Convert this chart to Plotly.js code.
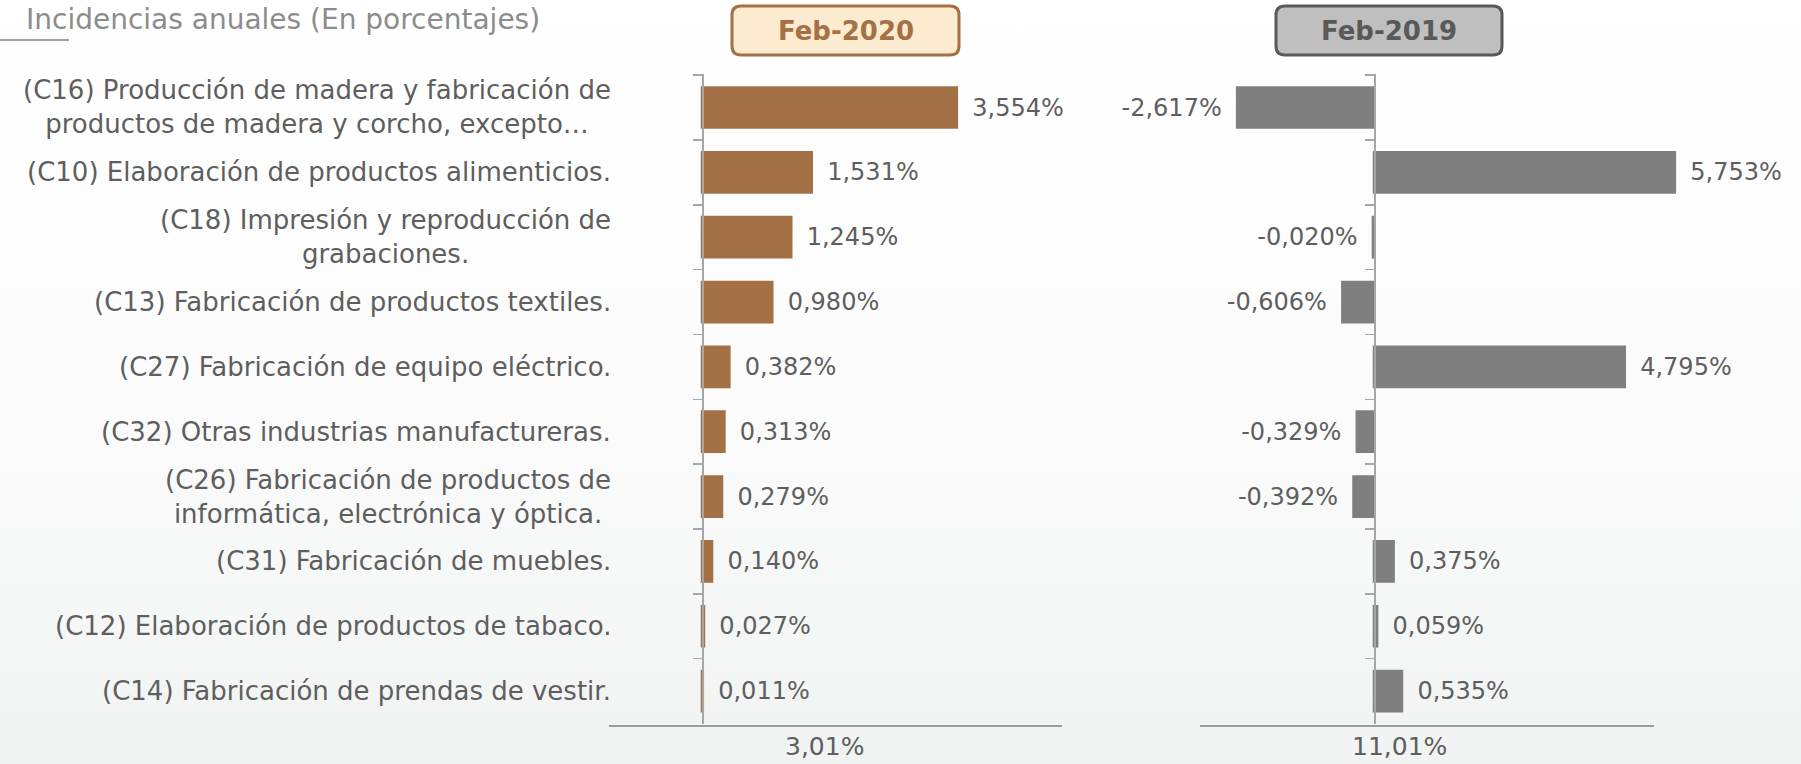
<!DOCTYPE html>
<html>
<head>
<meta charset="utf-8">
<script src="https://cdn.plot.ly/plotly-3.0.1.min.js"></script>
<style>
html,body{margin:0;padding:0;}
body{background:linear-gradient(180deg,#ffffff 0%,#fbfbfb 55%,#f1f3f3 100%);}
#chart{width:1801px;height:764px;}
</style>
</head>
<body>
<div id="chart"></div>
<script>
const categories = ['C16','C10','C18','C13','C27','C32','C26','C31','C12','C14'];
const categoryLabels = [
  '(C16) Producción de madera y fabricación de<br>productos de madera y corcho, excepto…',
  '(C10) Elaboración de productos alimenticios.',
  '(C18) Impresión y reproducción de<br>grabaciones.',
  '(C13) Fabricación de productos textiles.',
  '(C27) Fabricación de equipo eléctrico.',
  '(C32) Otras industrias manufactureras.',
  '(C26) Fabricación de productos de<br>informática, electrónica y óptica.',
  '(C31) Fabricación de muebles.',
  '(C12) Elaboración de productos de tabaco.',
  '(C14) Fabricación de prendas de vestir.'
];
const feb2020 = [3.554, 1.531, 1.245, 0.980, 0.382, 0.313, 0.279, 0.140, 0.027, 0.011];
const feb2019 = [-2.617, 5.753, -0.020, -0.606, 4.795, -0.329, -0.392, 0.375, 0.059, 0.535];
const panelTitles = ['Feb-2020', 'Feb-2019'];
const totals = ['3,01%', '11,01%'];
const chartTitle = 'Incidencias anuales (En porcentajes)';

const W = 1801, H = 764;
const FONT = '"DejaVu Sans", Lato, sans-serif';
const TXT = '#5E5E5E';
const BROWN = '#A47146';
const GRAY = '#7F7F7F';
const GAP = '\u00A0\u2009';

function fmt(v){ return v.toFixed(3).replace('.', ',') + '%'; }
function labelText(v){ return v < 0 ? fmt(v) + GAP : GAP + fmt(v); }
const px = x => x / W;
const py = y => 1 - y / H;

// panel geometry (pixels)
const left = {d0: 609, d1: 1062, zero: 702, ppu: 71.7};
const right = {d0: 1200, d1: 1795, zero: 1374, ppu: 52.3};
function rng(p){ return [(p.d0 - p.zero) / p.ppu, (p.d1 - p.zero) / p.ppu]; }

const yTop = 73.5, yBot = 723.5;

const traces = [
  {type:'bar', orientation:'h', y:categories, x:feb2020, xaxis:'x', yaxis:'y',
   marker:{color:BROWN, line:{color:BROWN, width:2.5}}, text:feb2020.map(labelText), textposition:'outside',
   textfont:{family:FONT, size:24, color:TXT}, constraintext:'none', cliponaxis:false,
   hoverinfo:'skip'},
  {type:'bar', orientation:'h', y:categories, x:feb2019, xaxis:'x2', yaxis:'y2',
   marker:{color:GRAY, line:{color:GRAY, width:2.5}}, text:feb2019.map(labelText), textposition:'outside',
   textfont:{family:FONT, size:24, color:TXT}, constraintext:'none', cliponaxis:false,
   hoverinfo:'skip'}
];

const yCommon = {
  type:'category', autorange:'reversed', domain:[py(yBot), py(yTop)],
  showgrid:false, zeroline:false, showticklabels:false,
  showline:true, linecolor:'#A6A6A6', linewidth:1.5,
  ticks:'outside', tickson:'boundaries', ticklen:9, tickcolor:'#A6A6A6', tickwidth:1.5,
  anchor:'free', fixedrange:true
};
const xCommon = {showgrid:false, zeroline:false, showline:false, showticklabels:false, ticks:'', fixedrange:true};

const annotations = [];
categories.forEach((c, i) => {
  annotations.push({xref:'paper', yref:'y', x:px(613), y:c, text:categoryLabels[i],
    xanchor:'right', yanchor:'middle', align:'center', showarrow:false,
    font:{family:FONT, size:26, color:TXT}});
});
annotations.push({xref:'paper', yref:'paper', x:px(24), y:py(19), text:chartTitle, xanchor:'left', yanchor:'middle',
  showarrow:false, font:{family:FONT, size:28, color:'#8C8C8C'}});
annotations.push({xref:'paper', yref:'paper', x:px(824), y:py(746), text:totals[0], xanchor:'center', yanchor:'middle',
  showarrow:false, font:{family:FONT, size:25, color:TXT}});
annotations.push({xref:'paper', yref:'paper', x:px(1399), y:py(746), text:totals[1], xanchor:'center', yanchor:'middle',
  showarrow:false, font:{family:FONT, size:25, color:TXT}});

function roundRect(x0, y0, x1, y1, r){
  const rx = r / W, ry = r / H;
  const X0 = px(x0), X1 = px(x1), Y0 = py(y0), Y1 = py(y1);
  return `M ${X0+rx},${Y0} L ${X1-rx},${Y0} Q ${X1},${Y0} ${X1},${Y0-ry} L ${X1},${Y1+ry} Q ${X1},${Y1} ${X1-rx},${Y1} ` +
         `L ${X0+rx},${Y1} Q ${X0},${Y1} ${X0},${Y1+ry} L ${X0},${Y0-ry} Q ${X0},${Y0} ${X0+rx},${Y0} Z`;
}
const boxes = [
  {x0:732, x1:959, fill:'#FDEBD0', line:BROWN, text:BROWN},
  {x0:1276, x1:1502, fill:'#BFBFBF', line:'#595959', text:'#595959'}
];
const shapes = [
  {type:'line', xref:'paper', yref:'paper', x0:0, x1:px(69), y0:py(40), y1:py(40), line:{color:'#7F7F7F', width:1.5}},
  {type:'line', xref:'paper', yref:'paper', x0:px(609), x1:px(1062), y0:py(726), y1:py(726), line:{color:'#7F7F7F', width:1.5}},
  {type:'line', xref:'paper', yref:'paper', x0:px(1200), x1:px(1654), y0:py(726), y1:py(726), line:{color:'#7F7F7F', width:1.5}}
];
boxes.forEach((b, i) => {
  shapes.push({type:'path', xref:'paper', yref:'paper', path:roundRect(b.x0, 6, b.x1, 55, 9),
    fillcolor:b.fill, line:{color:b.line, width:3}});
  annotations.push({xref:'paper', yref:'paper', x:px((b.x0+b.x1)/2), y:py(31), text:'<b>'+panelTitles[i]+'</b>',
    xanchor:'center', yanchor:'middle', showarrow:false, font:{family:FONT, size:26, color:b.text}});
});

const lp = rng(left), rp = rng(right);
const layout = {
  width:W, height:H, margin:{l:0, r:0, t:0, b:0},
  paper_bgcolor:'rgba(0,0,0,0)', plot_bgcolor:'rgba(0,0,0,0)',
  showlegend:false, bargap:0.38, font:{family:FONT, color:TXT},
  xaxis:Object.assign({}, xCommon, {domain:[px(left.d0), px(left.d1)], range:lp, anchor:'y'}),
  xaxis2:Object.assign({}, xCommon, {domain:[px(right.d0), px(right.d1)], range:rp, anchor:'y2'}),
  yaxis:Object.assign({}, yCommon, {position:px(left.zero)}),
  yaxis2:Object.assign({}, yCommon, {position:px(right.zero), matches:'y'}),
  shapes:shapes, annotations:annotations
};

Plotly.newPlot('chart', traces, layout, {displayModeBar:false, staticPlot:true});
</script>
</body>
</html>
